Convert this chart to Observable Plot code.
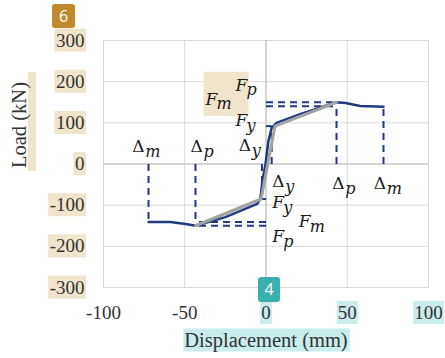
<!DOCTYPE html>
<html><head><meta charset="utf-8">
<script src="https://cdn.jsdelivr.net/npm/d3@7"></script>
<script src="https://cdn.jsdelivr.net/npm/@observablehq/plot@0.6"></script>
<style>
html,body{margin:0;padding:0;background:#fff;}
#chart{width:445px;height:358px;}
</style></head><body><div id="chart"></div>
<script>
const xTicks = [-100, -50, 0, 50, 100];
const yTicks = [-300, -200, -100, 0, 100, 200, 300];
const xTitle = "Displacement (mm)";
const yTitle = "Load (kN)";
// measured load–displacement envelope
const curveX = [-72.3, -58.8, -49.5, -43.4, -25, -5.4, -3.4, -2.2, -0.3, 1.5, 3.4, 6.5, 21, 43.4, 49, 58, 72.3];
const curveY = [-141, -141, -146, -150, -129, -97, -83, -41, 0, 56, 87, 100, 121, 150, 148, 141, 139];
// idealised bilinear curve
const idealX = [-43.4, -3, 5.5, 43.4];
const idealY = [-150, -85, 92, 150];
// characteristic points [yield, peak, max]
const dispPos = [3.5, 43.4, 72.3];
const loadPos = [92, 150, 140];
const dispNeg = [-2.5, -43.4, -72.3];
const loadNeg = [-85, -150, -141];
// annotation labels
const deltaSub = ["m", "p", "y", "y", "p", "m"];
const deltaX = [-82.3, -46.5, -16.7, 3.8, 40.7, 66.3];
const deltaY = [41.3, 41.3, 43.7, -43.7, -47.4, -47.4];
const forceSub = ["m", "p", "y", "y", "m", "p"];
const forceX = [-37.2, -18.8, -18.8, 3.8, 20.2, 3.8];
const forceY = [157, 191, 104.4, -94, -141, -177];

const curve = curveX.map((x, i) => ({x, y: curveY[i]}));
const ideal = idealX.map((x, i) => ({x, y: idealY[i]}));
function segs(disp, load) {
  const [dy, dp, dm] = disp, [fy, fp, fm] = load;
  return [
    {x1: dy, y1: 0, x2: dy, y2: fy}, {x1: 0, y1: fy, x2: dy, y2: fy},
    {x1: dp, y1: 0, x2: dp, y2: fp}, {x1: 0, y1: fp, x2: dp, y2: fp},
    {x1: 0, y1: fm, x2: dp, y2: fm}, {x1: dm, y1: 0, x2: dm, y2: fm}
  ];
}
const dashed = segs(dispPos, loadPos).concat(segs(dispNeg, loadNeg));
const deltas = deltaSub.map((s, i) => ({s, x: deltaX[i], y: deltaY[i]}));
const forces = forceSub.map((s, i) => ({s, x: forceX[i], y: forceY[i]}));

const navy = "#1f3a7d";
const labFont = "DejaVu Serif";
const axFont = "Liberation Serif";
const svg = Plot.plot({
  width: 445, height: 358,
  marginLeft: 103, marginRight: 17, marginTop: 40, marginBottom: 71,
  x: {domain: [-100, 100]},
  y: {domain: [-300, 300]},
  style: "font-family: 'Liberation Serif', serif; font-size: 19px; color: #333; background: #fff;",
  marks: [
    Plot.gridX({ticks: xTicks, stroke: "#d9d9d9", strokeOpacity: 1}),
    Plot.gridY({ticks: yTicks, stroke: "#d9d9d9", strokeOpacity: 1}),
    Plot.frame({stroke: "#d9d9d9"}),
    Plot.ruleX([0], {stroke: "#bdbdbd"}),
    Plot.ruleY([0], {stroke: "#bdbdbd"}),
    Plot.link(dashed, {x1: "x1", y1: "y1", x2: "x2", y2: "y2", stroke: navy, strokeWidth: 2, strokeDasharray: "7,5"}),
    Plot.line(curve, {x: "x", y: "y", stroke: navy, strokeWidth: 2.5}),
    Plot.line(ideal, {x: "x", y: "y", stroke: "#a3a3a3", strokeWidth: 3}),
    Plot.axisX({ticks: xTicks, tickSize: 0, tickPadding: 18, tickFormat: d => String(d), label: null, fontFamily: axFont, fontSize: 19}),
    Plot.axisY({ticks: yTicks, tickSize: 0, tickPadding: 19, tickFormat: d => String(d), label: null, fontFamily: axFont, fontSize: 19}),
    Plot.text([yTitle], {frameAnchor: "left", dx: -84, dy: 4, rotate: -90, text: d => d, fontFamily: axFont, fontSize: 20.5}),
    Plot.text([xTitle], {frameAnchor: "bottom", dy: 59, text: d => d, fontFamily: axFont, fontSize: 20.5}),
    Plot.text(deltas, {x: "x", y: "y", text: () => "Δ", textAnchor: "start", fontFamily: labFont, fontSize: 17, fill: "#1a1a1a"}),
    Plot.text(deltas, {x: "x", y: "y", text: "s", textAnchor: "start", dx: 13, dy: 5, fontFamily: labFont, fontStyle: "italic", fontSize: 16, fill: "#1a1a1a"}),
    Plot.text(forces, {x: "x", y: "y", text: () => "F", textAnchor: "start", fontFamily: labFont, fontStyle: "italic", fontSize: 17, fill: "#1a1a1a"}),
    Plot.text(forces, {x: "x", y: "y", text: "s", textAnchor: "start", dx: 11, dy: 5, fontFamily: labFont, fontStyle: "italic", fontSize: 16, fill: "#1a1a1a"})
  ]
});
document.getElementById("chart").append(svg);

const NS = "http://www.w3.org/2000/svg";
const sr = svg.getBoundingClientRect();
const texts = Array.from(svg.querySelectorAll("text"));
const byText = s => texts.filter(t => t.textContent.trim() === s);
function topChild(el) { while (el.parentNode && el.parentNode !== svg) el = el.parentNode; return el; }
const hl = document.createElementNS(NS, "g");
const firstTick = byText("-100")[0];
if (firstTick) svg.insertBefore(hl, topChild(firstTick)); else svg.append(hl);
function box(x, y, w, h, fill) {
  const r = document.createElementNS(NS, "rect");
  r.setAttribute("x", x); r.setAttribute("y", y);
  r.setAttribute("width", w); r.setAttribute("height", h);
  r.setAttribute("fill", fill);
  hl.append(r);
}
function bb(el) { const r = el.getBoundingClientRect(); return {x: r.left - sr.left, y: r.top - sr.top, w: r.width, h: r.height}; }
const tan = "#f0e4cc", cyan = "#c9ecec";
texts.forEach(t => {
  const s = t.textContent.trim(), b = bb(t);
  if (yTicks.map(String).includes(s) && b.x + b.w < 100) box(b.x - 1.5, b.y - 1, b.w + 3, b.h + 2, tan);
  else if (["0", "50", "100"].includes(s) && b.y > 290) box(b.x - 1, b.y - 1, b.w + 2, b.h + 2, cyan);
  else if (s === xTitle) box(b.x - 1, b.y, b.w + 3, b.h, cyan);
  else if (s === yTitle) box(b.x + b.w - 3, b.y - 10, 8, b.h + 13, tan);
});
{ const f = byText("F")[0]; if (f) { const b = bb(f); box(b.x - 1, b.y + b.h / 2 - 27, 45, 44, tan); } }

function badge(x, y, w, h, fill, label) {
  const g = document.createElementNS(NS, "g");
  const r = document.createElementNS(NS, "rect");
  r.setAttribute("x", x); r.setAttribute("y", y); r.setAttribute("width", w); r.setAttribute("height", h);
  r.setAttribute("rx", 3); r.setAttribute("fill", fill);
  const t = document.createElementNS(NS, "text");
  t.setAttribute("x", x + w / 2); t.setAttribute("y", y + h / 2); t.setAttribute("dy", "0.36em");
  t.setAttribute("text-anchor", "middle"); t.setAttribute("fill", "#fff");
  t.setAttribute("font-family", "Open Sans, DejaVu Sans, sans-serif"); t.setAttribute("font-size", 16);
  t.textContent = label;
  g.append(r, t); svg.append(g);
}
badge(52, 4, 23, 24, "#c0892e", "6");
badge(258, 277, 22, 25, "#3aafb0", "4");
</script></body></html>
